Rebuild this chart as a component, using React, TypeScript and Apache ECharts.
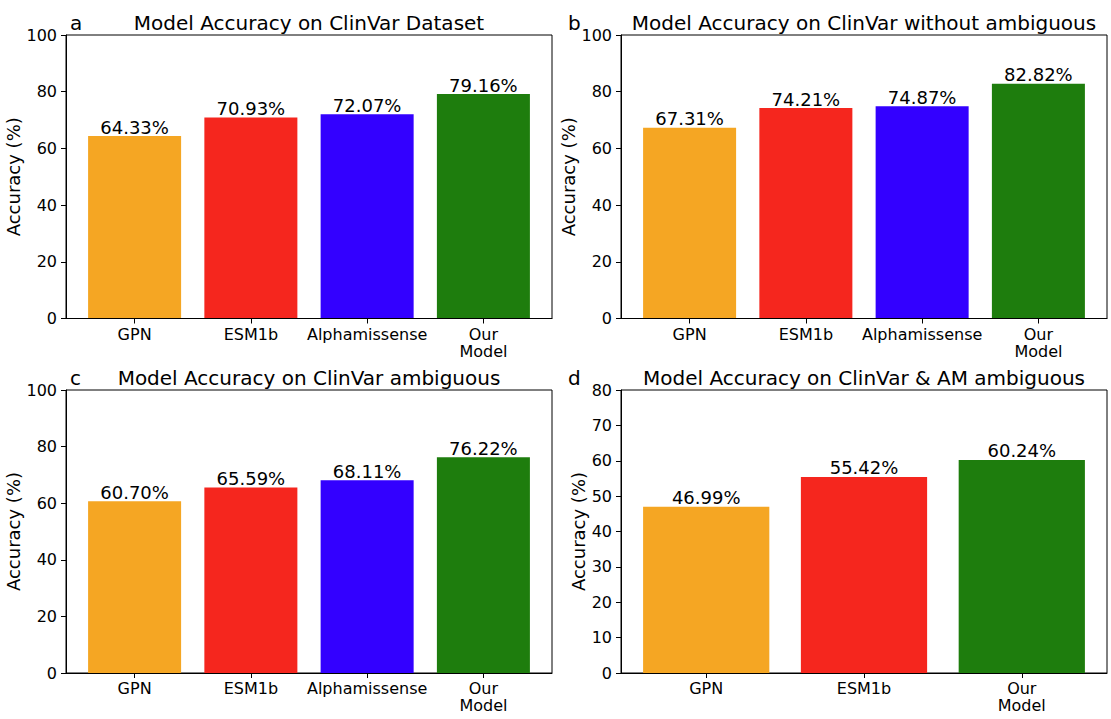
import React, { useEffect, useRef } from "react";
import * as echarts from "echarts";

const categories4 = ["GPN", "ESM1b", "Alphamissense", "Our\nModel"];
const categories3 = ["GPN", "ESM1b", "Our\nModel"];
const valuesA = [64.33, 70.93, 72.07, 79.16];
const valuesB = [67.31, 74.21, 74.87, 82.82];
const valuesC = [60.7, 65.59, 68.11, 76.22];
const valuesD = [46.99, 55.42, 60.24];
const titles = [
  "Model Accuracy on ClinVar Dataset",
  "Model Accuracy on ClinVar without ambiguous",
  "Model Accuracy on ClinVar ambiguous",
  "Model Accuracy on ClinVar & AM ambiguous",
];
const letters = ["a", "b", "c", "d"];
const yMax = [100, 100, 100, 80];
const yInterval = [20, 20, 20, 10];

const ORANGE = "#F5A623";
const RED = "#F5261E";
const BLUE = "#3300FF";
const GREEN = "#1E7D0D";
const colors4 = [ORANGE, RED, BLUE, GREEN];
const colors3 = [ORANGE, RED, GREEN];

const FONT = '"DejaVu Sans", "Liberation Sans", sans-serif';

export default function App() {
  const ref = useRef<HTMLDivElement>(null);
  useEffect(() => {
    if (!ref.current) return;
    const chart = echarts.init(ref.current, undefined, { renderer: "svg" });

    const grids = [
      { left: 66, top: 35, width: 486, height: 283.5 },
      { left: 621, top: 35, width: 486, height: 283.5 },
      { left: 66, top: 390, width: 486, height: 283 },
      { left: 621, top: 390, width: 486, height: 283 },
    ];
    const panels = [
      { cats: categories4, vals: valuesA, cols: colors4 },
      { cats: categories4, vals: valuesB, cols: colors4 },
      { cats: categories4, vals: valuesC, cols: colors4 },
      { cats: categories3, vals: valuesD, cols: colors3 },
    ];
    const nameGaps = [43, 43, 43, 34];

    const xAxes: any[] = [];
    const yAxes: any[] = [];
    const series: any[] = [];
    const graphics: any[] = [];

    panels.forEach((p, k) => {
      const n = p.cats.length;
      const margin = 0.05 * (n - 1 + 0.8);
      const xmin = -0.4 - margin;
      const xmax = n - 1 + 0.4 + margin;
      const idx = p.cats.map((_, i) => i);
      const g = grids[k];
      const barW = (0.8 * g.width) / (xmax - xmin);
      xAxes.push({
        type: "value",
        gridIndex: k,
        min: xmin,
        max: xmax,
        z: 10,
        splitLine: { show: false },
        axisLine: { show: true, onZero: false, lineStyle: { color: "#000", width: 1 } },
        axisTick: { show: true, customValues: idx, length: 5, lineStyle: { color: "#000" } },
        axisLabel: {
          customValues: idx,
          formatter: (v: number) => p.cats[Math.round(v)] ?? "",
          fontSize: 16,
          lineHeight: 17,
          color: "#000",
          fontFamily: FONT,
          margin: 7,
        },
      });
      yAxes.push({
        type: "value",
        gridIndex: k,
        min: 0,
        max: yMax[k],
        interval: yInterval[k],
        z: 10,
        name: "Accuracy (%)",
        nameLocation: "middle",
        nameGap: nameGaps[k],
        nameTextStyle: { fontSize: 18, color: "#000", fontFamily: FONT },
        splitLine: { show: false },
        axisLine: { show: true, onZero: false, lineStyle: { color: "#000", width: 1 } },
        axisTick: { show: true, length: 5, lineStyle: { color: "#000" } },
        axisLabel: { fontSize: 16, color: "#000", fontFamily: FONT, margin: 9 },
      });
      series.push({
        type: "bar",
        xAxisIndex: k,
        yAxisIndex: k,
        barWidth: barW,
        data: p.vals.map((v, i) => ({ value: [i, v], itemStyle: { color: p.cols[i] } })),
        label: {
          show: true,
          position: "top",
          distance: 0,
          fontSize: 18,
          color: "#000",
          fontFamily: FONT,
          formatter: (prm: any) => prm.value[1].toFixed(2) + "%",
        },
      });
      const ty = g.top - 12;
      graphics.push({
        type: "text",
        x: g.left + g.width / 2,
        y: ty,
        style: {
          text: titles[k],
          font: `20px ${FONT}`,
          fill: "#000",
          align: "center",
          verticalAlign: "middle",
        },
      });
      graphics.push({
        type: "text",
        x: k % 2 === 0 ? g.left + 4 : g.left - 53,
        y: ty,
        style: {
          text: letters[k],
          font: `20px ${FONT}`,
          fill: "#000",
          align: "left",
          verticalAlign: "middle",
        },
      });
    });

    chart.setOption({
      animation: false,
      backgroundColor: "#fff",
      textStyle: { fontFamily: FONT },
      grid: grids.map((g) => ({
        ...g,
        show: true,
        borderColor: "#000",
        borderWidth: 1,
        backgroundColor: "transparent",
        containLabel: false,
      })),
      xAxis: xAxes,
      yAxis: yAxes,
      series,
      graphic: graphics,
    });
    return () => chart.dispose();
  }, []);
  return (
    <div
      ref={ref}
      style={{ position: "fixed", left: 0, top: 0, width: 1111, height: 719 }}
    />
  );
}
